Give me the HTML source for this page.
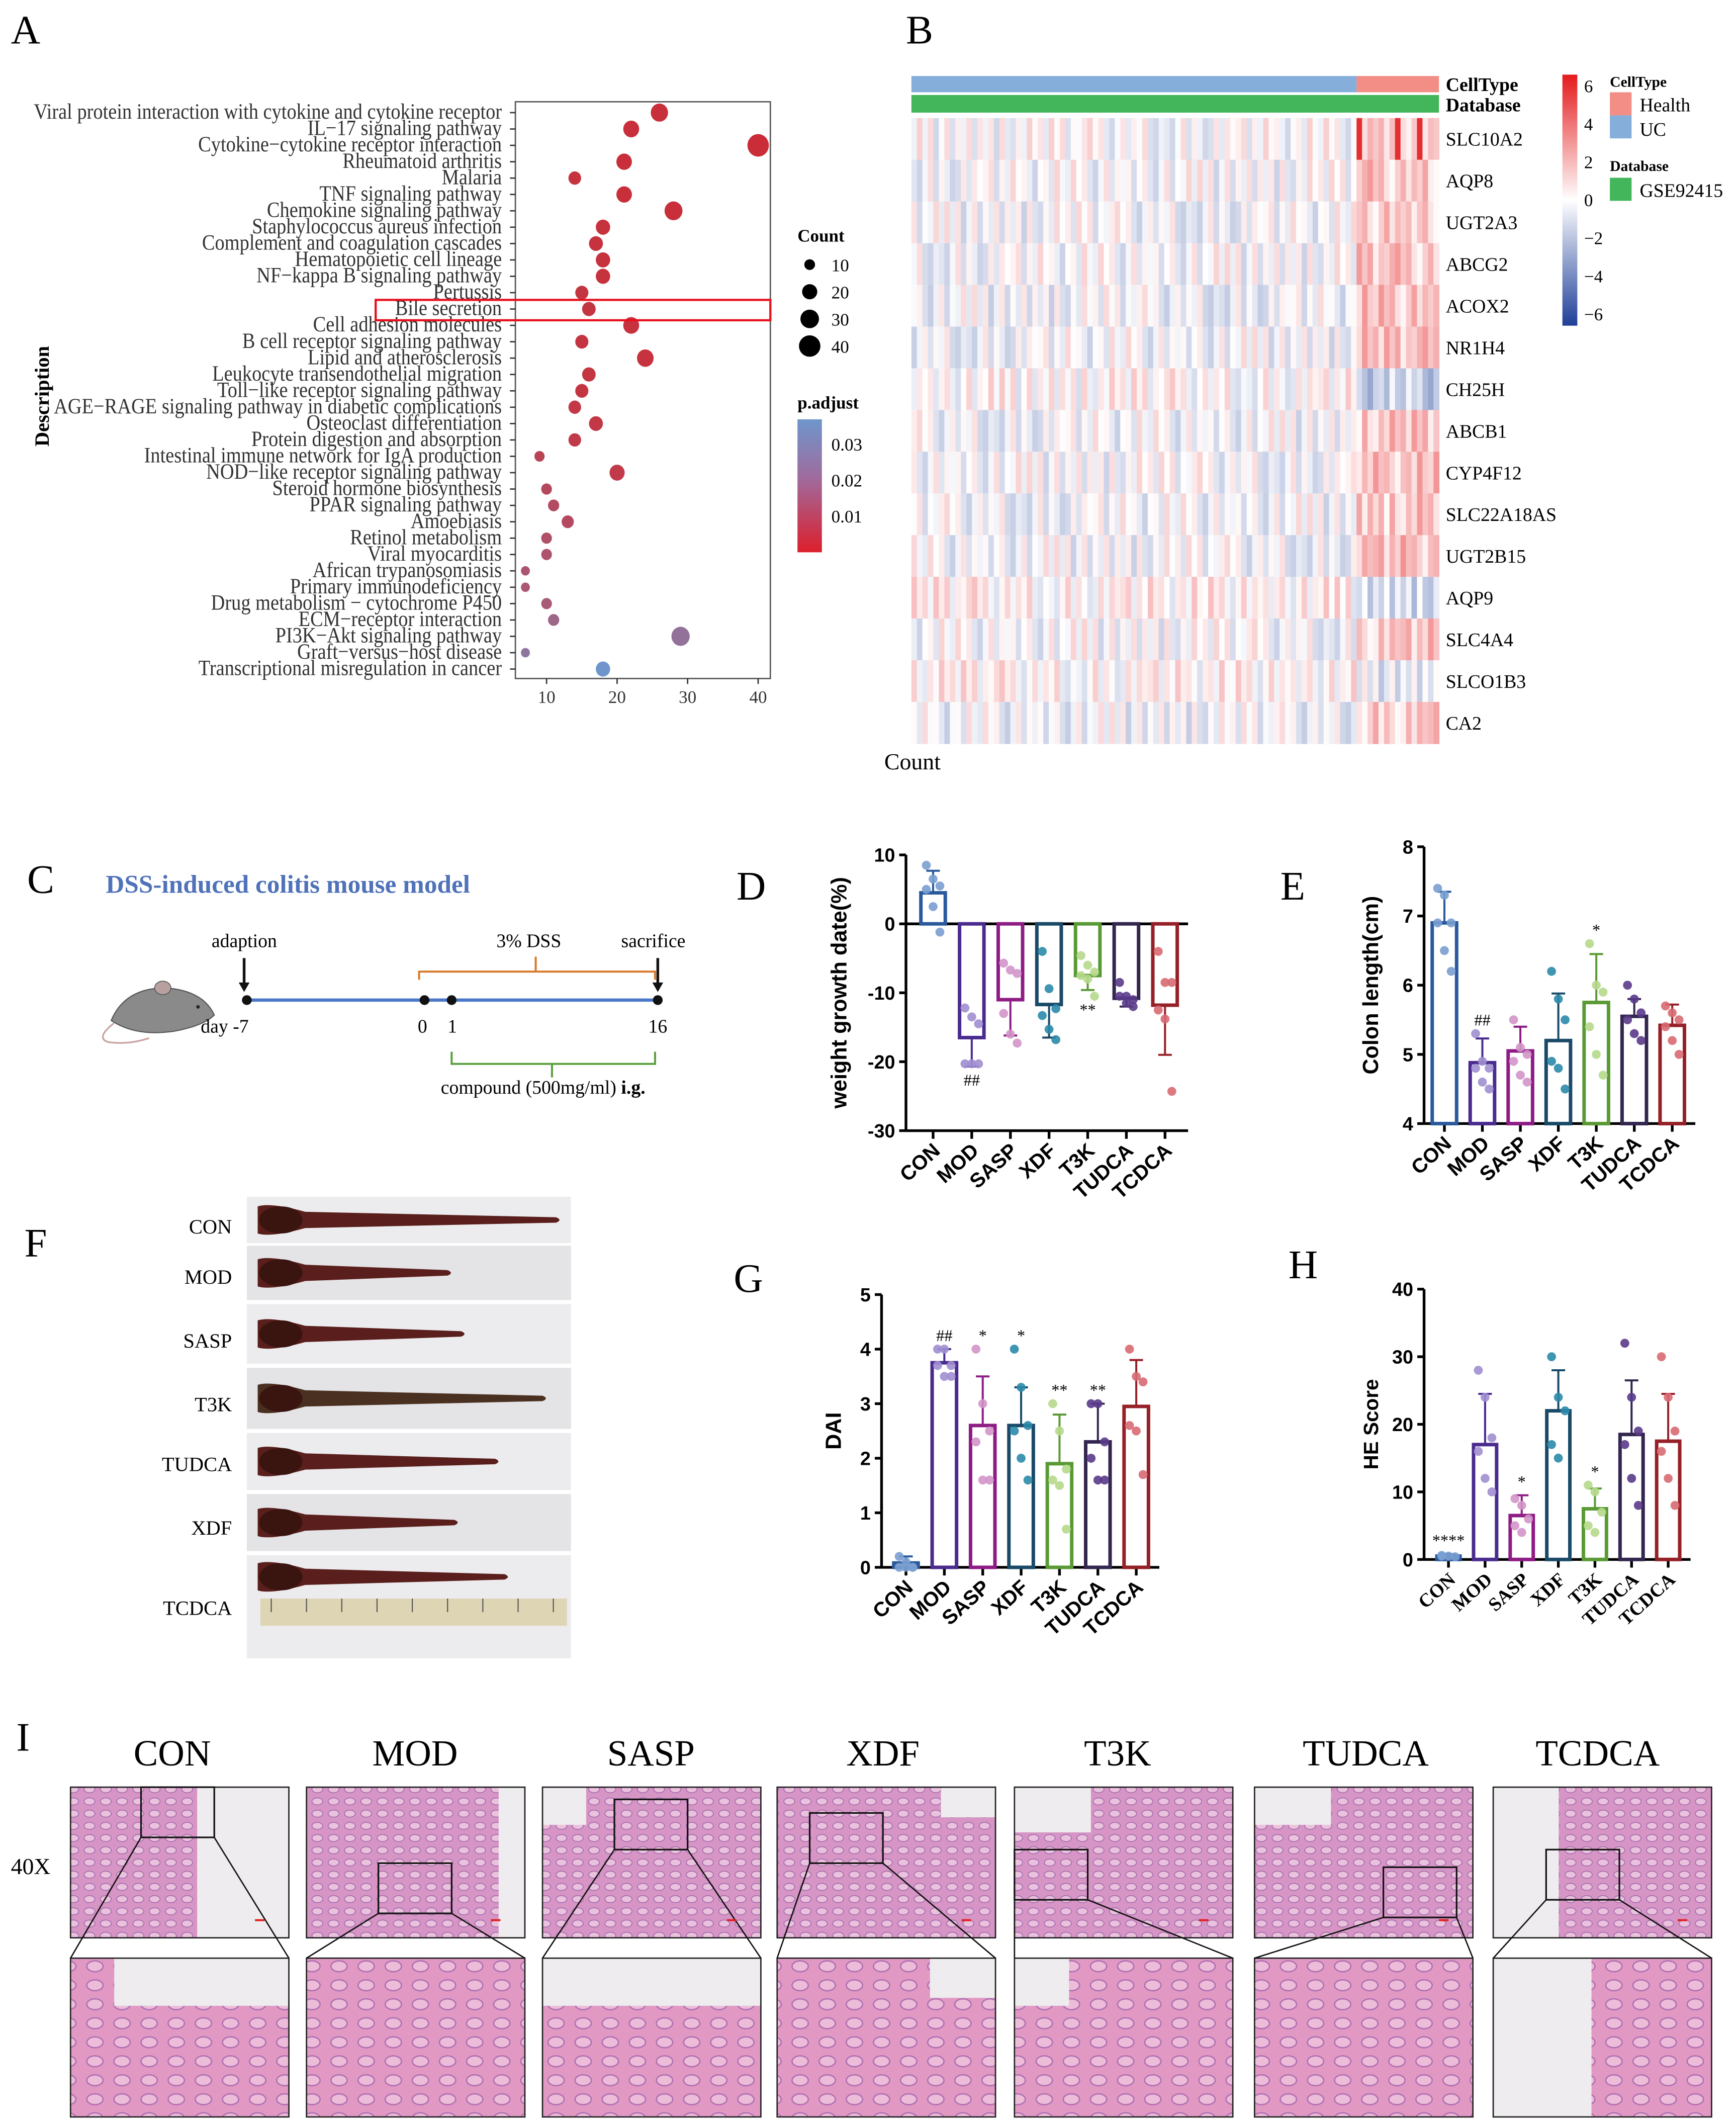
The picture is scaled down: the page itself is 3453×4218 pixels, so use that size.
<!DOCTYPE html>
<html><head><meta charset="utf-8"><style>
html,body{margin:0;padding:0;background:#fff;}
svg{display:block;}
.serif{font-family:"Liberation Serif",serif;}
.sans{font-family:"Liberation Sans",sans-serif;}
</style></head><body>
<svg id="root" xmlns="http://www.w3.org/2000/svg" width="3453" height="4218" viewBox="0 0 1280 1563" preserveAspectRatio="none">
<defs>
<linearGradient id="padj" x1="0" y1="0" x2="0" y2="1">
<stop offset="0" stop-color="#6e96cc"/><stop offset="0.45" stop-color="#a06a9c"/><stop offset="1" stop-color="#dc1f2c"/></linearGradient>
<linearGradient id="hmleg" x1="0" y1="0" x2="0" y2="1">
<stop offset="0" stop-color="#e41a1c"/><stop offset="0.5" stop-color="#ffffff"/><stop offset="1" stop-color="#1f3f98"/></linearGradient>
<pattern id="crypt" width="12" height="9" patternUnits="userSpaceOnUse">
<rect width="12" height="9" fill="#d095c8"/>
<ellipse cx="6" cy="4.5" rx="4" ry="2.6" fill="#ecd6ea" stroke="#8c62aa" stroke-width="0.7"/></pattern>
<pattern id="crypt2" width="20" height="14" patternUnits="userSpaceOnUse">
<rect width="20" height="14" fill="#dca0cc"/>
<ellipse cx="10" cy="7" rx="6" ry="4" fill="#efdaee" stroke="#8a5cac" stroke-width="1"/></pattern>
</defs>
<g id="panelA"></g>
<g id="panelB"></g>
<g id="panelC"></g>
<g id="panelD"></g>
<g id="panelE"></g>
<g id="panelF"></g>
<g id="panelG"></g>
<g id="panelH"></g>
<g id="panelI"></g>
</svg>
<script>
// ---------- Panel A data ----------
const keggTerms = ["Viral protein interaction with cytokine and cytokine receptor","IL\u221217 signaling pathway","Cytokine\u2212cytokine receptor interaction","Rheumatoid arthritis","Malaria","TNF signaling pathway","Chemokine signaling pathway","Staphylococcus aureus infection","Complement and coagulation cascades","Hematopoietic cell lineage","NF\u2212kappa B signaling pathway","Pertussis","Bile secretion","Cell adhesion molecules","B cell receptor signaling pathway","Lipid and atherosclerosis","Leukocyte transendothelial migration","Toll\u2212like receptor signaling pathway","AGE\u2212RAGE signaling pathway in diabetic complications","Osteoclast differentiation","Protein digestion and absorption","Intestinal immune network for IgA production","NOD\u2212like receptor signaling pathway","Steroid hormone biosynthesis","PPAR signaling pathway","Amoebiasis","Retinol metabolism","Viral myocarditis","African trypanosomiasis","Primary immunodeficiency","Drug metabolism \u2212 cytochrome P450","ECM\u2212receptor interaction","PI3K\u2212Akt signaling pathway","Graft\u2212versus\u2212host disease","Transcriptional misregulation in cancer"];
const keggCounts = [26,22,40,21,14,21,28,18,17,18,18,15,16,22,15,24,16,15,14,17,14,9,20,10,11,13,10,10,7,7,10,11,29,7,18];
const keggPadj = [0.002,0.002,0.001,0.002,0.003,0.002,0.002,0.003,0.003,0.003,0.003,0.004,0.004,0.003,0.004,0.003,0.004,0.004,0.005,0.005,0.006,0.009,0.006,0.011,0.012,0.012,0.014,0.015,0.016,0.017,0.018,0.022,0.025,0.026,0.035];
const countTicks = [10,20,30,40];
const padjTicks = [0.01,0.02,0.03];
// ---------- Panel B data ----------
const genes = ["SLC10A2","AQP8","UGT2A3","ABCG2","ACOX2","NR1H4","CH25H","ABCB1","CYP4F12","SLC22A18AS","UGT2B15","AQP9","SLC4A4","SLCO1B3","CA2"];
const geneMeanUC = [0,-0.1,-0.2,-0.1,-0.3,-0.2,0.2,-0.2,-0.1,-0.2,-0.2,0.4,-0.1,0.3,-0.3];
const geneMeanHealth = [1.6,1.4,1.4,1.4,1.5,1.4,-1.5,1.4,1.5,1.4,1.6,-1.0,1.4,-0.6,1.4];
const noiseDigits = "3718264905172638405918273645019283746501928374650192837465019283746501827364519203847561029384756";
const nUC = 81, nHealth = 15;
const hmTicks = [6,4,2,0,-2,-4,-6];
// ---------- Bar chart data ----------
const groups = ["CON","MOD","SASP","XDF","T3K","TUDCA","TCDCA"];
const weightMeans = [4.5,-16.5,-11,-11.7,-7.5,-10.8,-11.8];
const weightErr = [3.2,4.2,5.2,4.8,2.1,1.2,7.2];
const weightPts = [[8.5,6.5,5.5,5,2.5,-1.2],[-12.2,-13.5,-14.5,-20.3,-20.3,-20.3],[-5.7,-6.7,-7.2,-13,-16,-17.3],[-4,-9.4,-12.3,-13.3,-15.3,-16.8],[-4.6,-6,-7,-7.5,-8,-10.5],[-8.5,-10.5,-11,-10.5,-11.5,-12],[-4,-8.5,-8.5,-12.5,-13.8,-24.3]];
const weightTicks = [10,0,-10,-20,-30];
const weightMarks = ["","##","","","**","",""];
const lengthMeans = [6.9,4.88,5.05,5.2,5.75,5.55,5.42];
const lengthErr = [0.45,0.35,0.35,0.68,0.7,0.25,0.3];
const lengthPts = [[7.4,7.3,6.9,6.9,6.5,6.2],[5.3,4.9,4.8,4.8,4.6,4.5],[5.5,5.1,5.0,4.9,4.7,4.6],[6.2,5.8,5.5,4.9,4.8,4.5],[6.6,6.0,5.9,5.4,5.0,4.7],[6.0,5.8,5.6,5.5,5.3,5.2],[5.7,5.6,5.5,5.4,5.2,5.0]];
const lengthTicks = [8,7,6,5,4];
const lengthMarks = ["","##","","","*","",""];
const daiMeans = [0.08,3.75,2.6,2.6,1.9,2.3,2.95];
const daiErr = [0.12,0.25,0.9,0.7,0.9,0.7,0.85];
const daiPts = [[0.2,0.1,0,0,0,0],[4,4,3.7,3.7,3.5,3.5],[4,3,2.5,2.3,1.6,1.6],[4,3.3,2.6,2.5,2,1.6],[3,2.5,1.8,1.6,1.5,0.7],[3,3,2.3,2.0,1.6,1.6],[4,3.5,3.4,2.6,2.5,1.7]];
const daiTicks = [5,4,3,2,1,0];
const daiMarks = ["","##","*","*","**","**",""];
const heMeans = [0.5,17,6.5,22,7.5,18.5,17.5];
const heErr = [0.3,7.5,3,6,3,8,7];
const hePts = [[0.5,0.5,0.4,0.6],[28,24,18,16,12,10],[9,8,6,5,4],[30,24,22,17,15],[11,10,7,5,4],[32,24,19,17,12,8],[30,24,19,16,12,8]];
const heTicks = [40,30,20,10,0];
const heMarks = ["****","","*","","*","",""];
const strokeCols = ["#2a5a9c","#4a2b8e","#8e1c85","#1a4a68","#5a9a35","#33264f","#962027"];
const dotCols = ["#7a9fd0","#a08ed0","#d295c8","#2a8aaa","#b6d98c","#5a3a8a","#d86a72"];
// ---------- Panel F / I data ----------
const photoLabels = ["CON","MOD","SASP","T3K","TUDCA","XDF","TCDCA"];
const colonLengths = [410,330,340,400,365,335,372];
const histLabels = ["CON","MOD","SASP","XDF","T3K","TUDCA","TCDCA"];

const NS="http://www.w3.org/2000/svg";
function mk(parent, tag, attrs, text){
  const e=document.createElementNS(NS,tag);
  for(const k in attrs) e.setAttribute(k,attrs[k]);
  if(text!==undefined) e.textContent=text;
  parent.appendChild(e); return e;
}
function lerpCol(a,b,t){
  const pa=[parseInt(a.substr(1,2),16),parseInt(a.substr(3,2),16),parseInt(a.substr(5,2),16)];
  const pb=[parseInt(b.substr(1,2),16),parseInt(b.substr(3,2),16),parseInt(b.substr(5,2),16)];
  return "rgb("+pa.map((v,i)=>Math.round(v+(pb[i]-v)*t)).join(",")+")";
}
function letter(g, ch, x, y){
  const t=mk(g,"text",{x:x,y:y,"font-size":30,class:"serif"},ch);
  
  
}

// ================= Panel A =================
(function(){
  const g=document.getElementById("panelA");
  letter(g,"A",8,32);
  const x0=380,x1=568,yT=75,yB=500;
  const xs=v=>351+5.2*v;
  const ys=i=>83+i*12.06;
  const frame=mk(g,"rect",{x:x0,y:yT,width:x1-x0,height:yB-yT,fill:"none",stroke:"#555","stroke-width":1});
  
  
  keggTerms.forEach((t,i)=>{
    const tx=mk(g,"text",{transform:"translate(370,"+(ys(i)+4.5)+") scale(0.89,1)","text-anchor":"end","font-size":16,fill:"#333",class:"serif"},t);
    
    
    mk(g,"line",{x1:376,x2:380,y1:ys(i),y2:ys(i),stroke:"#333"});
  });
  keggTerms.forEach((t,i)=>{
    const p=keggPadj[i];
    let c = p<0.02 ? lerpCol("#cc2a33","#a4607f",p/0.02) : lerpCol("#a4607f","#6e96cc",Math.min(1,(p-0.02)/0.015));
    const r=Math.sqrt(keggCounts[i])*1.25;
    const d=mk(g,"ellipse",{cx:xs(keggCounts[i]),cy:ys(i),rx:r,ry:r*1.05,fill:c});
    
    
  });
  countTicks.forEach(v=>{
    mk(g,"line",{x1:xs(v),x2:xs(v),y1:yB,y2:yB+4,stroke:"#333"});
    const l=mk(g,"text",{x:xs(v),y:yB+18,"text-anchor":"middle","font-size":13,fill:"#333",class:"serif"},String(v));
    
    
  });
  const yl=mk(g,"text",{transform:"translate(36,292) rotate(-90)","text-anchor":"middle","font-size":15,"font-weight":"bold",class:"serif"},"Description");
  
  
  const hl=mk(g,"rect",{x:277,y:221,width:291,height:15,fill:"none",stroke:"#e8101c","stroke-width":1.6});
  
  
  const lt=mk(g,"text",{x:588,y:178,"font-size":13,"font-weight":"bold",class:"serif"},"Count");
  
  
  countTicks.forEach((v,i)=>{
    const yy=195+i*20;
    mk(g,"circle",{cx:597,cy:yy,r:Math.sqrt(v)*1.25,fill:"#000"});
    const l=mk(g,"text",{x:613,y:yy+5,"font-size":13,class:"serif"},String(v));
    
    
  });
  const pt=mk(g,"text",{x:588,y:301,"font-size":13,"font-weight":"bold",class:"serif"},"p.adjust");
  
  
  const cb=mk(g,"rect",{x:588,y:309,width:18,height:98,fill:"url(#padj)"});
  
  
  padjTicks.forEach(v=>{
    const y2=380-(v-0.01)*2650;
    const l=mk(g,"text",{x:613,y:y2+5,"font-size":13,class:"serif"},v.toFixed(2));
    
    
  });
})();

// ================= Panel B =================
(function(){
  const g=document.getElementById("panelB");
  letter(g,"B",668,32);
  const x0=672,x1=1061,y0=87,y1=548;
  const nC=nUC+nHealth, cw=(x1-x0)/nC, rh=(y1-y0)/genes.length;
  const ct1=mk(g,"rect",{x:x0,y:56,width:cw*nUC,height:12,fill:"#86aedb"});
  
  
  const ct2=mk(g,"rect",{x:x0+cw*nUC,y:56,width:cw*nHealth,height:12,fill:"#f28e85"});
  
  
  const db=mk(g,"rect",{x:x0,y:70,width:x1-x0,height:13,fill:"#43b55a"});
  
  
  function col(v){
    const t=Math.max(-1,Math.min(1,v/6));
    return t>=0?lerpCol("#ffffff","#e41a1c",t):lerpCol("#ffffff","#1f3f98",-t);
  }
  genes.forEach((gn,r)=>{
    for(let c=0;c<nC;c++){
      const d=+noiseDigits[(r*31+c*7)%noiseDigits.length];
      const base=c<nUC?geneMeanUC[r]:geneMeanHealth[r];
      let v=base+(d-4.5)*0.28;
      if(r===0 && c>=nUC && d>=7) v=5.5;
      const cell=mk(g,"rect",{x:x0+c*cw,y:y0+r*rh,width:cw+0.3,height:rh+0.3,fill:col(v)});
      
      
    }
    const l=mk(g,"text",{x:1066,y:y0+r*rh+rh/2+5,"font-size":14,class:"serif"},gn);
    
    
  });
  const a1=mk(g,"text",{x:1066,y:67,"font-size":14,"font-weight":"bold",class:"serif"},"CellType");
  
  
  const a2=mk(g,"text",{x:1066,y:82,"font-size":14,"font-weight":"bold",class:"serif"},"Database");
  
  
  const lg=mk(g,"rect",{x:1152,y:55,width:11,height:185,fill:"url(#hmleg)"});
  
  
  hmTicks.forEach(v=>{
    const yy=147-v*14;
    const l=mk(g,"text",{x:1168,y:yy+5,"font-size":13,class:"serif"},v<0?"\u2212"+(-v):String(v));
    
    
  });
  const t1=mk(g,"text",{x:1187,y:64,"font-size":11,"font-weight":"bold",class:"serif"},"CellType");
  
  
  mk(g,"rect",{x:1187,y:68,width:16,height:17,fill:"#f28e85"});
  mk(g,"rect",{x:1187,y:85,width:16,height:17,fill:"#86aedb"});
  const h1=mk(g,"text",{x:1209,y:82,"font-size":14,class:"serif"},"Health");
  
  
  const h2=mk(g,"text",{x:1209,y:100,"font-size":14,class:"serif"},"UC");
  
  
  const t2=mk(g,"text",{x:1187,y:126,"font-size":11,"font-weight":"bold",class:"serif"},"Database");
  
  
  mk(g,"rect",{x:1187,y:131,width:16,height:17,fill:"#43b55a"});
  const h3=mk(g,"text",{x:1209,y:145,"font-size":14,class:"serif"},"GSE92415");
  
  
  const cnt=mk(g,"text",{x:652,y:567,"font-size":17,class:"serif"},"Count");
  
  
})();

// ================= Panel C =================
(function(){
  const g=document.getElementById("panelC");
  letter(g,"C",20,658);
  const t=mk(g,"text",{x:78,y:658,"font-size":19,"font-weight":"bold",fill:"#4f72b8",class:"serif"},"DSS-induced colitis mouse model");
  
  
  const m=mk(g,"g",{});
  
  
  mk(m,"path",{d:"M82,752 Q92,728 122,728 Q150,730 158,748 Q150,756 128,760 Q100,764 82,752 Z",fill:"#8a8a8a",stroke:"#555","stroke-width":0.8});
  mk(m,"ellipse",{cx:120,cy:728,rx:6,ry:5,fill:"#b8a0a0",stroke:"#555","stroke-width":0.6});
  mk(m,"path",{d:"M84,754 Q70,765 80,768 Q95,770 110,765",fill:"none",stroke:"#c9a0a0","stroke-width":1.2});
  mk(m,"circle",{cx:146,cy:742,r:1.3,fill:"#222"});
  const line=mk(g,"line",{x1:182,x2:485,y1:737,y2:737,stroke:"#4a78c8","stroke-width":2.4});
  
  
  [182,313,333,485].forEach(x=>{
    const d=mk(g,"circle",{cx:x,cy:737,r:3.6,fill:"#111"});
    
    
  });
  [["day -7",148],["0",308],["1",330],["16",478]].forEach(a=>{
    const l=mk(g,"text",{x:a[1],y:761,"font-size":14,class:"serif"},a[0]);
    
    
  });
  [["adaption",156],["3% DSS",366],["sacrifice",458]].forEach(a=>{
    const l=mk(g,"text",{x:a[1],y:698,"font-size":14,class:"serif"},a[0]);
    
    
  });
  [180,485].forEach(x=>{
    mk(g,"line",{x1:x,x2:x,y1:706,y2:727,stroke:"#111","stroke-width":2});
    mk(g,"path",{d:`M${x-4},724 L${x+4},724 L${x},731 Z`,fill:"#111"});
  });
  const ob=mk(g,"path",{d:"M309,722 L309,716 L483,716 L483,722 M395,716 L395,705",fill:"none",stroke:"#d87a2a","stroke-width":1.5});
  
  
  const gb=mk(g,"path",{d:"M333,775 L333,784 L483,784 L483,775 M407,784 L407,794",fill:"none",stroke:"#5aa040","stroke-width":1.5});
  
  
  const ct=mk(g,"text",{x:325,y:806,"font-size":14,class:"serif"});
  
  
  ct.innerHTML='compound (500mg/ml) <tspan font-weight="bold">i.g.</tspan>';
})();

// ================= Bar chart builder =================
function barChart(gid, cfg){
  const g=document.getElementById(gid);
  const ys=v=>cfg.yPix0+(cfg.yMax-v)*cfg.ppu;
  const xs=i=>cfg.xc0+i*cfg.dx;
  const yBot=ys(cfg.yMin), yTop=ys(cfg.yMax), yBase=ys(cfg.base);
  const ax=mk(g,"line",{x1:cfg.axX,x2:cfg.axX,y1:yTop,y2:yBot,stroke:"#000","stroke-width":2});
  
  
  const xa=mk(g,"line",{x1:cfg.axX,x2:xs(6)+cfg.bw/2+8,y1:yBot,y2:yBot,stroke:"#000","stroke-width":2});
  
  
  if(cfg.base!==cfg.yMin){
    const zl=mk(g,"line",{x1:cfg.axX,x2:xs(6)+cfg.bw/2+8,y1:yBase,y2:yBase,stroke:"#000","stroke-width":2});
    
    
  }
  cfg.ticks.forEach(v=>{
    mk(g,"line",{x1:cfg.axX-5,x2:cfg.axX,y1:ys(v),y2:ys(v),stroke:"#000","stroke-width":2});
    const l=mk(g,"text",{x:cfg.axX-8,y:ys(v)+5,"text-anchor":"end","font-size":14,"font-weight":"bold",class:cfg.tickFont||"sans"},String(v));
    
    
  });
  groups.forEach((gr,i)=>{
    const x=xs(i), m=cfg.means[i];
    mk(g,"line",{x1:x,x2:x,y1:yBot,y2:yBot+6,stroke:"#000","stroke-width":2});
    const top=Math.min(ys(m),yBase), h=Math.abs(ys(m)-yBase);
    const b=mk(g,"rect",{x:x-cfg.bw/2,y:top,width:cfg.bw,height:Math.max(h,0.5),fill:"#fff",stroke:strokeCols[i],"stroke-width":2.6});
    
    
    const dir=m>=cfg.base?1:-1;
    const ey=ys(m+dir*cfg.err[i]);
    const e=mk(g,"path",{d:`M${x},${ys(m)} L${x},${ey} M${x-5},${ey} L${x+5},${ey}`,stroke:strokeCols[i],"stroke-width":1.5,fill:"none"});
    
    
    cfg.pts[i].forEach((v,j)=>{
      const off=((j%3)-1)*5;
      const p=mk(g,"circle",{cx:x+off,cy:ys(v),r:3.3,fill:dotCols[i],"fill-opacity":0.9});
      
      
    });
    if(cfg.marks[i]){
      const my=cfg.markBelow? Math.max(ys(m-cfg.err[i]),ys(Math.min(...cfg.pts[i])))+14 : Math.min(ey,ys(Math.max(...cfg.pts[i])))-6;
      const mt=mk(g,"text",{x:x,y:my,"text-anchor":"middle","font-size":12,class:"serif"},cfg.marks[i]);
      
      
    }
    const lab=mk(g,"text",{transform:`translate(${x+6},${yBot+16}) rotate(-42)`,"text-anchor":"end","font-size":cfg.labSize||15,"font-weight":"bold",class:cfg.labFont||"sans"},gr);
    
    
  });
  const yl=mk(g,"text",{transform:`translate(${cfg.ylx},${(yTop+yBot)/2}) rotate(-90)`,"text-anchor":"middle","font-size":cfg.ylSize||16,"font-weight":"bold",class:"sans"},cfg.ylabel);
  
  
}
letter(document.getElementById("panelD"),"D",543,663);
barChart("panelD",{yMax:10,yMin:-30,base:0,yPix0:630,ppu:5.08,axX:668,xc0:688,dx:28.5,bw:18,means:weightMeans,err:weightErr,pts:weightPts,ticks:weightTicks,marks:weightMarks,markBelow:true,ylx:624,ylabel:"weight growth date(%)"});
letter(document.getElementById("panelE"),"E",944,663);
barChart("panelE",{yMax:8,yMin:4,base:4,yPix0:624,ppu:51,axX:1050,xc0:1065,dx:28,bw:18,means:lengthMeans,err:lengthErr,pts:lengthPts,ticks:lengthTicks,marks:lengthMarks,ylx:1016,ylabel:"Colon length(cm)"});
letter(document.getElementById("panelG"),"G",541,952);
barChart("panelG",{yMax:5,yMin:0,base:0,yPix0:954,ppu:40.2,axX:650,xc0:668,dx:28.3,bw:18,means:daiMeans,err:daiErr,pts:daiPts,ticks:daiTicks,marks:daiMarks,ylx:620,ylabel:"DAI"});
letter(document.getElementById("panelH"),"H",950,942);
barChart("panelH",{yMax:40,yMin:0,base:0,yPix0:950,ppu:4.98,axX:1050,xc0:1068,dx:27,bw:17,means:heMeans,err:heErr,pts:hePts,ticks:heTicks,marks:heMarks,ylx:1016,ylabel:"HE Score",labFont:"serif",labSize:14,ylSize:15});

// ================= Panel F =================
(function(){
  const g=document.getElementById("panelF");
  letter(g,"F",18,926);
  const rows=[[882,916],[918,958],[961,1005],[1008,1053],[1056,1098],[1101,1143],[1146,1222]];
  const labY=[909,946,993,1040,1084,1131,1190];
  rows.forEach((r,i)=>{
    const bg=mk(g,"rect",{x:182,y:r[0],width:239,height:r[1]-r[0],fill:i%2?"#e4e3e6":"#ecebee"});
    
    
    const cy=(i===6)?1162:(r[0]+r[1])/2;
    const L=colonLengths[i];
    const c=mk(g,"path",{d:`M190,${cy-10} Q200,${cy-13} 225,${cy-6} L${L},${cy-2} Q${L+5},${cy} ${L},${cy+2} L225,${cy+6} Q200,${cy+13} 190,${cy+10} Z`,fill:i===3?"#4a3020":"#5a1f1c"});
    
    
    mk(g,"ellipse",{cx:207,cy:cy,rx:16,ry:10,fill:"#3a1510"});
    const l=mk(g,"text",{x:171,y:labY[i],"text-anchor":"end","font-size":15,class:"serif"},photoLabels[i]);
    
    
  });
  const ruler=mk(g,"rect",{x:192,y:1178,width:226,height:20,fill:"#ddd5b4"});
  
  
  for(let k=0;k<9;k++) mk(g,"line",{x1:200+k*26,x2:200+k*26,y1:1178,y2:1188,stroke:"#555","stroke-width":0.8});
})();

// ================= Panel I =================
(function(){
  const g=document.getElementById("panelI");
  letter(g,"I",12,1290);
  const xs=[52,226,400,573,748,925,1101], w=161;
  const labX=[127,306,480,651,824,1007,1178];
  const boxes=[[104,1317],[279,1373],[453,1326],[597,1336],[748,1363],[1020,1376],[1140,1363]];
  const light=[[0.58,0,0.42,1],[0.88,0,0.12,1],[0,0,0.2,0.25],[0.75,0,0.25,0.2],[0,0,0.35,0.3],[0,0,0.35,0.25],[0,0,0.3,1]];
  const lightB=[[0.2,0,0.8,0.3],[0,0,0,0],[0,0,1,0.3],[0.7,0,0.3,0.25],[0,0,0.25,0.3],[0,0,0,0],[0,0,0.45,1]];
  const ol=mk(g,"text",{x:8,y:1381,"font-size":17,class:"serif"},"40X");
  
  
  histLabels.forEach((h,i)=>{
    const x=xs[i];
    const l=mk(g,"text",{x:labX[i],y:1301,"text-anchor":"middle","font-size":27,class:"serif"},h);
    
    
    const top=mk(g,"rect",{x:x,y:1317,width:w,height:111,fill:"url(#crypt)"});
    
    
    mk(g,"rect",{x:x,y:1317,width:w,height:111,fill:"#e796bf","fill-opacity":0.3});
    const lt=light[i];
    if(lt[2]>0) mk(g,"rect",{x:x+lt[0]*w,y:1317+lt[1]*111,width:lt[2]*w,height:lt[3]*111,fill:"#efecef"});
    mk(g,"rect",{x:x,y:1317,width:w,height:111,fill:"none",stroke:"#222","stroke-width":1});
    const bot=mk(g,"rect",{x:x,y:1443,width:w,height:117,fill:"url(#crypt2)"});
    
    
    mk(g,"rect",{x:x,y:1443,width:w,height:117,fill:"#e88fb8","fill-opacity":0.4});
    const lb=lightB[i];
    if(lb[2]>0) mk(g,"rect",{x:x+lb[0]*w,y:1443+lb[1]*117,width:lb[2]*w,height:lb[3]*117,fill:"#efecef"});
    mk(g,"rect",{x:x,y:1443,width:w,height:117,fill:"none",stroke:"#222","stroke-width":1});
    const b=boxes[i];
    const zb=mk(g,"rect",{x:b[0],y:b[1],width:54,height:37,fill:"none",stroke:"#111","stroke-width":1.2});
    
    
    mk(g,"path",{d:`M${b[0]},${b[1]+37} L${x},1443 M${b[0]+54},${b[1]+37} L${x+w},1443`,stroke:"#111","stroke-width":1,fill:"none"});
    mk(g,"line",{x1:x+w-25,x2:x+w-18,y1:1415,y2:1415,stroke:"#e02020","stroke-width":1.5});
  });
})();
</script>
</body></html>
